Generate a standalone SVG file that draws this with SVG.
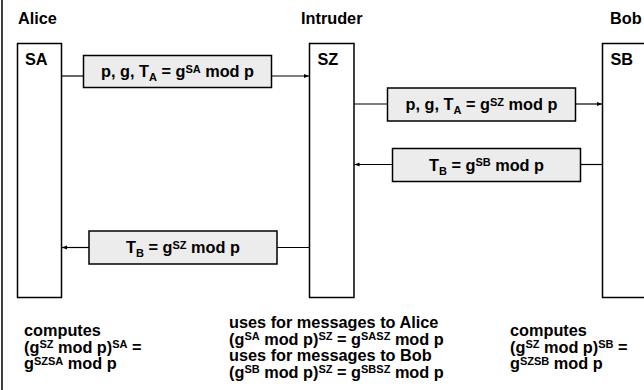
<svg xmlns="http://www.w3.org/2000/svg" width="644" height="390" viewBox="0 0 644 390">
<style>
text{font-family:"Liberation Sans",Arial,sans-serif;font-weight:bold;font-size:16.3px;fill:#000}
.s{font-size:11px}
.col{fill:#fff;stroke:#000;stroke-width:1.5}
.msg{fill:#ececec;stroke:#000;stroke-width:1.5}
.ln{stroke:#000;stroke-width:1.2;fill:none}
.mid{text-anchor:middle}
</style>
<defs>
<marker id="ah" markerWidth="6" markerHeight="6" refX="5" refY="3" orient="auto" markerUnits="userSpaceOnUse">
<path d="M0,1 L5,3 L0,5 Z" fill="#000"/>
</marker>
</defs>
<rect width="644" height="390" fill="#fff"/>
<line x1="2" y1="0" x2="2" y2="390" stroke="#000" stroke-width="1.5"/>

<g id="alice">
<text x="18" y="24">Alice</text>
<rect class="col" x="17.5" y="43.5" width="44" height="254"/>
<text x="25" y="65">SA</text>
</g>
<g id="intruder">
<text x="301" y="24">Intruder</text>
<rect class="col" x="309.5" y="43.5" width="44.5" height="254"/>
<text x="317.5" y="65">SZ</text>
</g>
<g id="bob">
<text x="610" y="24">Bob</text>
<rect class="col" x="602.5" y="43.5" width="60" height="254"/>
<text x="610.5" y="65">SB</text>
</g>

<g id="connectors">
<line class="ln" x1="61.5" y1="76" x2="83.5" y2="76"/>
<line class="ln" x1="271.5" y1="76" x2="309" y2="76" marker-end="url(#ah)"/>
<line class="ln" x1="354" y1="104" x2="387.5" y2="104"/>
<line class="ln" x1="575.5" y1="104" x2="602" y2="104" marker-end="url(#ah)"/>
<line class="ln" x1="602.5" y1="164.5" x2="580.5" y2="164.5"/>
<line class="ln" x1="392.5" y1="164.5" x2="354.5" y2="164.5" marker-end="url(#ah)"/>
<line class="ln" x1="309.5" y1="247.5" x2="277" y2="247.5"/>
<line class="ln" x1="89" y1="247.5" x2="62" y2="247.5" marker-end="url(#ah)"/>
</g>

<g id="msg1">
<rect class="msg" x="83.5" y="55.5" width="188" height="32"/>
<text class="mid" x="177.5" y="77">p, g, T<tspan class="s" dy="4">A</tspan><tspan dy="-4"> = g</tspan><tspan class="s" dy="-4.5">SA</tspan><tspan dy="4.5"> mod p</tspan></text>
</g>
<g id="msg2">
<rect class="msg" x="387.5" y="88" width="188" height="33"/>
<text class="mid" x="481.5" y="110">p, g, T<tspan class="s" dy="4">A</tspan><tspan dy="-4"> = g</tspan><tspan class="s" dy="-4.5">SZ</tspan><tspan dy="4.5"> mod p</tspan></text>
</g>
<g id="msg3">
<rect class="msg" x="392.5" y="148.5" width="188" height="33"/>
<text class="mid" x="486.5" y="170.5">T<tspan class="s" dy="4">B</tspan><tspan dy="-4"> = g</tspan><tspan class="s" dy="-4.5">SB</tspan><tspan dy="4.5"> mod p</tspan></text>
</g>
<g id="msg4">
<rect class="msg" x="89" y="231" width="188" height="33"/>
<text class="mid" x="183" y="253">T<tspan class="s" dy="4">B</tspan><tspan dy="-4"> = g</tspan><tspan class="s" dy="-4.5">SZ</tspan><tspan dy="4.5"> mod p</tspan></text>
</g>

<g id="alice-note">
<text x="24" y="336">computes</text>
<text x="24" y="352.5">(g<tspan class="s" dy="-4.5">SZ</tspan><tspan dy="4.5"> mod p)</tspan><tspan class="s" dy="-4.5">SA</tspan><tspan dy="4.5"> =</tspan></text>
<text x="24" y="369">g<tspan class="s" dy="-4.5">SZSA</tspan><tspan dy="4.5"> mod p</tspan></text>
</g>
<g id="intruder-note">
<text x="229" y="328">uses for messages to Alice</text>
<text x="229" y="344.5">(g<tspan class="s" dy="-4.5">SA</tspan><tspan dy="4.5"> mod p)</tspan><tspan class="s" dy="-4.5">SZ</tspan><tspan dy="4.5"> = g</tspan><tspan class="s" dy="-4.5">SASZ</tspan><tspan dy="4.5"> mod p</tspan></text>
<text x="229" y="361">uses for messages to Bob</text>
<text x="229" y="377.5">(g<tspan class="s" dy="-4.5">SB</tspan><tspan dy="4.5"> mod p)</tspan><tspan class="s" dy="-4.5">SZ</tspan><tspan dy="4.5"> = g</tspan><tspan class="s" dy="-4.5">SBSZ</tspan><tspan dy="4.5"> mod p</tspan></text>
</g>
<g id="bob-note">
<text x="510" y="336">computes</text>
<text x="510" y="352.5">(g<tspan class="s" dy="-4.5">SZ</tspan><tspan dy="4.5"> mod p)</tspan><tspan class="s" dy="-4.5">SB</tspan><tspan dy="4.5"> =</tspan></text>
<text x="510" y="369">g<tspan class="s" dy="-4.5">SZSB</tspan><tspan dy="4.5"> mod p</tspan></text>
</g>
</svg>
